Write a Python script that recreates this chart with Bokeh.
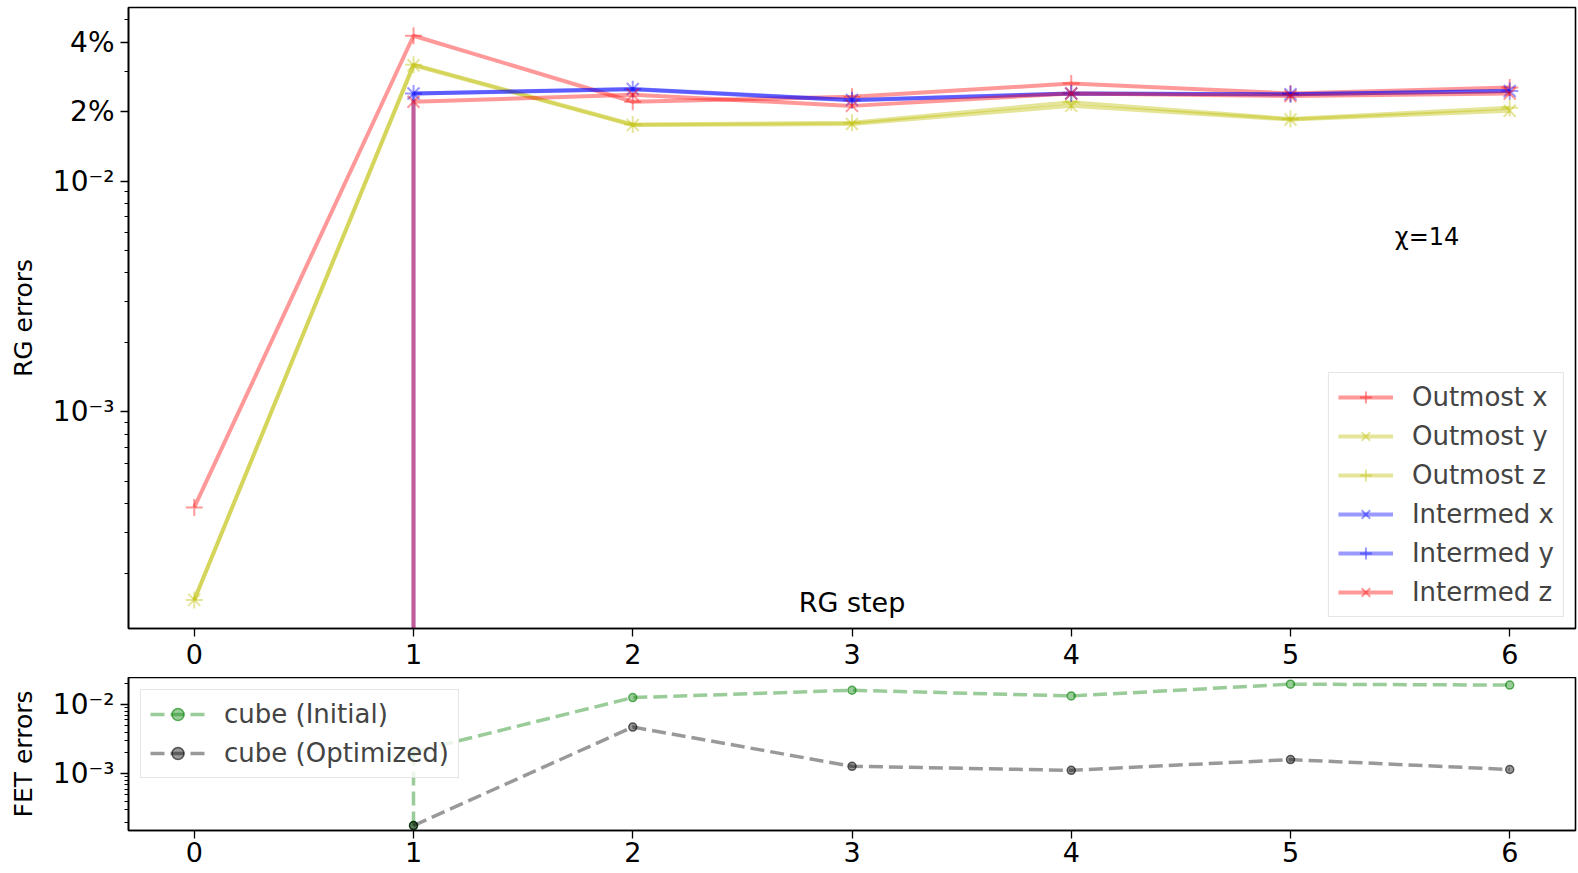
from bokeh.plotting import figure
from bokeh.layouts import column
from bokeh.models import FixedTicker, Label
from bokeh.embed import file_html
from bokeh.resources import INLINE

# ---- data ----
steps = [0, 1, 2, 3, 4, 5, 6]
outmost_x = [3.85e-4, 0.0427, 0.0221, 0.0232, 0.0265, 0.0240, 0.0255]
outmost_y = [1.53e-4, 0.0318, 0.0175, 0.0177, 0.0212, 0.0185, 0.0202]
outmost_z = [1.53e-4, 0.0320, 0.0176, 0.0179, 0.0220, 0.0186, 0.0208]

inter_steps = [1, 2, 3, 4, 5, 6]
intermed_x = [0.0240, 0.0251, 0.0225, 0.0240, 0.0238, 0.0246]
inter_steps_v = [1, 1, 2, 3, 4, 5, 6]   # first point ~0 -> vertical drop at step 1
intermed_y = [1e-6, 0.0240, 0.0250, 0.0224, 0.0240, 0.0238, 0.0246]
intermed_z = [1e-6, 0.0221, 0.0237, 0.0212, 0.0240, 0.0234, 0.0240]

fet_steps_init = [1, 1, 2, 3, 4, 5, 6]
cube_initial = [1.78e-4, 2.06e-3, 0.0126, 0.0161, 0.0133, 0.0197, 0.0191]
fet_steps_opt = [1, 2, 3, 4, 5, 6]
cube_optimized = [1.78e-4, 4.73e-3, 1.28e-3, 1.12e-3, 1.60e-3, 1.15e-3]

top_major = [1e-3, 1e-2, 0.02, 0.04]
top_major_labels = ["10⁻³", "10⁻²", "2%", "4%"]
top_minor = [2e-4, 3e-4, 4e-4, 5e-4, 6e-4, 7e-4, 8e-4, 9e-4,
             2e-3, 3e-3, 4e-3, 5e-3, 6e-3, 7e-3, 8e-3, 9e-3, 0.03, 0.05]
bot_major = [1e-3, 1e-2]
bot_major_labels = ["10⁻³", "10⁻²"]
bot_minor = [2e-4, 3e-4, 4e-4, 5e-4, 6e-4, 7e-4, 8e-4, 9e-4,
             2e-3, 3e-3, 4e-3, 5e-3, 6e-3, 7e-3, 8e-3, 9e-3, 0.02]

FONT = "DejaVu Sans"
RED = "#ff0000"
YEL = "#bfbf00"
BLUE = "#0000ff"
GREEN = "#008000"
BLACK = "#000000"


def style(p, ymajor, ylabels, yminor, ylabel, xstandoff):
    p.xgrid.visible = False
    p.ygrid.visible = False
    p.outline_line_color = "black"
    p.outline_line_width = 1.6
    p.outline_line_alpha = 1.0
    p.xaxis.ticker = FixedTicker(ticks=steps, minor_ticks=[])
    p.yaxis.ticker = FixedTicker(ticks=ymajor, minor_ticks=yminor)
    p.yaxis.major_label_overrides = {v: t for v, t in zip(ymajor, ylabels)}
    for ax in (p.xaxis, p.yaxis):
        ax.axis_line_width = 1.6
        ax.axis_line_color = "black"
        ax.major_tick_in = 0
        ax.major_tick_out = 8
        ax.minor_tick_in = 0
        ax.minor_tick_out = 4
        ax.major_tick_line_width = 1.3
        ax.minor_tick_line_width = 1.0
        ax.major_label_text_font = FONT
        ax.major_label_text_color = "black"
        ax.major_label_standoff = 6
    p.yaxis.major_label_text_font_size = "28px"
    p.xaxis.major_label_text_font_size = "27px"
    p.xaxis.major_label_standoff = xstandoff
    p.yaxis.axis_label = ylabel
    p.yaxis.axis_label_text_font = FONT
    p.yaxis.axis_label_text_font_size = "25px"
    p.yaxis.axis_label_text_font_style = "normal"
    p.yaxis.axis_label_text_color = "black"
    p.yaxis.axis_label_standoff = 12


def style_legend(lg, location, margin):
    lg.location = location
    lg.margin = margin
    lg.padding = 9
    lg.spacing = 9
    lg.glyph_width = 55
    lg.glyph_height = 30
    lg.label_height = 30
    lg.label_standoff = 19
    lg.label_text_font = FONT
    lg.label_text_font_size = "26px"
    lg.border_line_color = "#cccccc"
    lg.border_line_width = 1.5
    lg.background_fill_alpha = 0.8


# ---- top panel ----
p1 = figure(width=1578, height=677, x_range=(-0.3, 6.3), y_range=(1.15e-4, 0.0566),
            y_axis_type="log", output_backend="svg", toolbar_location=None,
            min_border_left=128, min_border_right=3, min_border_top=7, min_border_bottom=49)
style(p1, top_major, top_major_labels, top_minor, "RG errors", 7)

series = [
    ("Outmost x", steps, outmost_x, RED, "cross"),
    ("Outmost y", steps, outmost_y, YEL, "x"),
    ("Outmost z", steps, outmost_z, YEL, "cross"),
    ("Intermed x", inter_steps, intermed_x, BLUE, "x"),
    ("Intermed y", inter_steps_v, intermed_y, BLUE, "cross"),
    ("Intermed z", inter_steps_v, intermed_z, RED, "x"),
]
for name, xs, ys, col, mk in series:
    p1.line(xs, ys, line_color=col, line_alpha=0.4, line_width=4, legend_label=name)
    p1.scatter(xs, ys, marker=mk, size=17, line_color=col, line_alpha=0.4,
               line_width=2, legend_label=name)

p1.add_layout(Label(x=3, y=1.49e-4, text="RG step", text_align="center",
                    text_baseline="middle", text_font=FONT, text_font_size="27px",
                    text_color="black"))
p1.add_layout(Label(x=5.476, y=5.74e-3, text="χ=14", text_align="left",
                    text_baseline="middle", text_font=FONT, text_font_size="24px",
                    text_color="black"))

style_legend(p1.legend[0], "bottom_right", 11)

# ---- bottom panel ----
p2 = figure(width=1578, height=196, x_range=(-0.3, 6.3), y_range=(1.51e-4, 0.0246),
            y_axis_type="log", output_backend="svg", toolbar_location=None,
            min_border_left=128, min_border_right=3, min_border_top=0, min_border_bottom=43)
style(p2, bot_major, bot_major_labels, bot_minor, "FET errors", 3)

for name, xs, ys, col in [("cube (Initial)", fet_steps_init, cube_initial, GREEN),
                          ("cube (Optimized)", fet_steps_opt, cube_optimized, BLACK)]:
    p2.line(xs, ys, line_color=col, line_alpha=0.4, line_width=3.5,
            line_dash="14 6", legend_label=name)
    p2.scatter(xs, ys, marker="circle", size=8, fill_color=col, fill_alpha=0.4,
               line_color=col, line_alpha=0.6, line_width=1.5, legend_label=name)

style_legend(p2.legend[0], "top_left", 12)

layout = column(p1, p2, spacing=0)
open("out.html", "w").write(file_html(layout, INLINE))
